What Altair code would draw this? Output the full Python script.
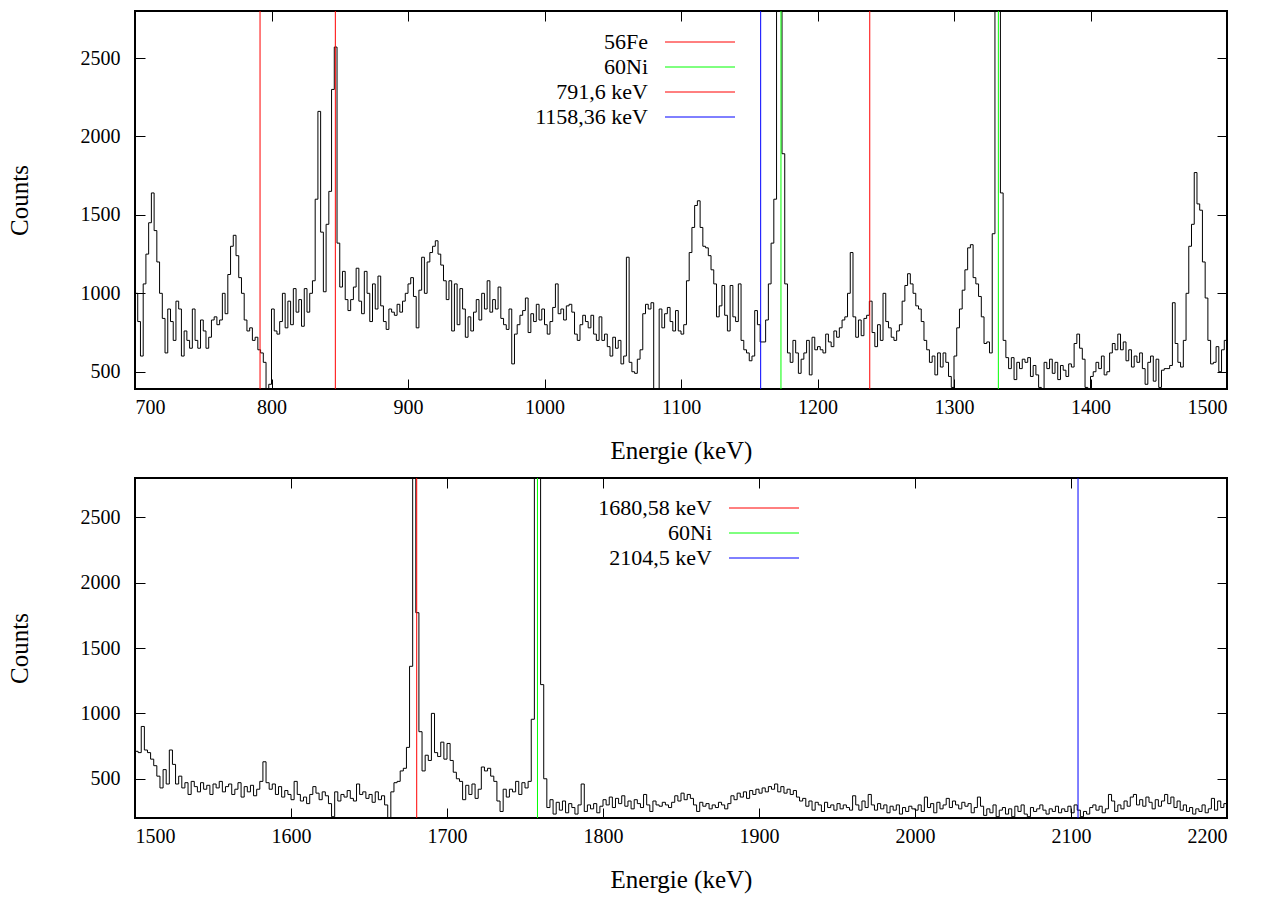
import altair as alt
import pandas as pd

FONT = "Liberation Serif"
BIN = 2  # keV per channel

# ---------------- top panel: 700-1500 keV (2 keV bins) ----------------
top_start = 700
top_counts = [
    1000, 820, 600, 1060, 1250, 1450, 1640, 1400, 1200, 1000,
    840, 620, 900, 820, 700, 950, 900, 600, 760, 700,
    650, 900, 700, 650, 830, 760, 650, 720, 830, 850,
    800, 830, 1000, 870, 1120, 1300, 1370, 1240, 1100, 1000,
    830, 760, 780, 700, 720, 640, 620, 560, 380, 420,
    900, 760, 740, 820, 1000, 780, 950, 800, 1030, 880,
    960, 790, 1030, 880, 1000, 1080, 1600, 2160, 1390, 1010,
    1440, 1650, 2300, 2570, 1320, 1040, 1140, 960, 890, 960,
    1040, 1160, 950, 870, 1140, 1000, 820, 1060, 900, 1110,
    920, 820, 770, 900, 880, 860, 930, 880, 950, 1000,
    1060, 1100, 980, 780, 1020, 1230, 1000, 1200, 1260, 1300,
    1335, 1250, 1180, 1080, 960, 1080, 760, 1060, 800, 1030,
    900, 720, 850, 760, 880, 960, 830, 1000, 900, 1080,
    880, 960, 900, 1040, 840, 800, 770, 900, 550, 740,
    800, 860, 890, 970, 750, 870, 820, 930, 830, 900,
    800, 740, 820, 910, 1060, 870, 900, 830, 920, 930,
    880, 740, 700, 800, 860, 820, 780, 860, 740, 700,
    850, 700, 740, 660, 600, 720, 650, 700, 550, 600,
    1230, 560, 500, 490, 580, 640, 870, 930, 900, 940,
    380, 380, 900, 780, 870, 910, 820, 760, 890, 760,
    740, 800, 1080, 1260, 1420, 1560, 1590, 1420, 1300, 1290,
    1240, 1150, 1060, 850, 920, 1050, 860, 760, 1050, 850,
    820, 1060, 700, 640, 620, 570, 600, 890, 800, 690,
    690, 830, 1060, 1320, 1600, 3500, 3500, 1890, 1060, 620,
    560, 700, 620, 490, 580, 620, 700, 480, 720, 640,
    660, 640, 620, 740, 690, 660, 760, 720, 780, 830,
    850, 1000, 1260, 850, 720, 830, 730, 840, 860, 950,
    750, 660, 800, 700, 1000, 820, 780, 720, 700, 760,
    800, 950, 1050, 1125, 1060, 1000, 920, 900, 820, 700,
    640, 560, 600, 480, 620, 530, 620, 560, 470, 400,
    600, 780, 900, 1020, 1150, 1290, 1310, 1100, 1060, 980,
    850, 680, 690, 620, 1380, 3500, 3200, 1640, 700, 590,
    520, 590, 450, 560, 520, 580, 560, 590, 470, 540,
    480, 400, 380, 560, 520, 580, 490, 560, 450, 540,
    510, 470, 550, 530, 680, 740, 650, 580, 400, 380,
    470, 500, 560, 520, 600, 480, 500, 620, 680, 640,
    740, 640, 690, 570, 640, 530, 600, 560, 620, 520,
    420, 560, 600, 440, 580, 400, 510, 520, 520, 540,
    940, 680, 560, 530, 700, 1000, 1300, 1440, 1770, 1570,
    1530, 1200, 970, 700, 550, 560, 660, 500, 640, 700,
]

# ---------------- bottom panel: 1500-2200 keV (2 keV bins) ----------------
bot_start = 1500
bot_counts = [
    710, 700, 900, 720, 700, 650, 600, 520, 430, 570,
    460, 720, 610, 460, 520, 430, 470, 380, 480, 440,
    400, 470, 420, 450, 380, 460, 430, 480, 400, 440,
    460, 380, 420, 470, 360, 440, 400, 450, 370, 420,
    480, 630, 470, 420, 460, 380, 440, 360, 410, 380,
    340, 480, 380, 330, 360, 310, 380, 440, 390, 340,
    400, 370, 310, 210, 400, 330, 380, 360, 410, 350,
    330, 460, 380, 400, 350, 380, 320, 400, 340, 370,
    300, 200, 400, 470, 480, 560, 580, 740, 1360, 3200,
    1770, 860, 560, 680, 640, 1000, 700, 670, 780, 650,
    770, 640, 550, 500, 480, 340, 450, 380, 460, 350,
    420, 590, 560, 580, 520, 480, 330, 250, 420, 360,
    420, 400, 480, 380, 470, 430, 480, 955, 3500, 3500,
    1220, 500, 280, 340, 230, 320, 260, 330, 240, 310,
    280, 230, 300, 460, 250, 300, 270, 310, 240, 290,
    340, 300, 360, 280, 350, 310, 370, 290, 330, 270,
    340, 310, 280, 380, 300, 250, 330, 300, 290, 320,
    300, 280, 320, 370, 330, 390, 340, 380, 350, 300,
    250, 320, 290, 310, 270, 300, 280, 320, 300, 270,
    310, 370, 340, 390, 360, 400, 350, 410, 380, 420,
    390, 430, 400, 440, 420, 460, 400, 440, 390, 420,
    380, 410, 360, 330, 350, 290, 330, 260, 320, 300,
    250, 320, 280, 300, 260, 310, 270, 300, 280, 260,
    370, 300, 260, 330, 280, 380, 300, 260, 310, 270,
    300, 240, 290, 260, 300, 230, 280, 250, 290, 270,
    260, 300, 250, 360, 280, 310, 240, 320, 270, 300,
    350, 280, 330, 300, 270, 320, 290, 310, 240, 280,
    360, 290, 220, 270, 240, 300, 210, 260, 280, 230,
    270, 210, 290, 250, 300, 230, 210, 280, 250, 270,
    300, 260, 230, 270, 250, 290, 240, 270, 250, 290,
    240, 300, 260, 210, 250, 230, 280, 300, 260, 290,
    240, 270, 380, 330, 250, 300, 270, 330, 290, 360,
    380, 300, 340, 290, 360, 320, 270, 340, 290, 330,
    380, 310, 360, 280, 330, 260, 300, 250, 280, 230,
    270, 250, 300, 240, 270, 350, 260, 330, 280, 310,
]

top_x_domain = [700, 1500]
top_y_domain = [390, 2800]
bot_x_domain = [1500, 2200]
bot_y_domain = [200, 2800]
top_x_ticks = [700, 800, 900, 1000, 1100, 1200, 1300, 1400, 1500]
bot_x_ticks = [1500, 1600, 1700, 1800, 1900, 2000, 2100, 2200]
y_ticks = [500, 1000, 1500, 2000, 2500]

RED, GREEN, BLUE = "#ff0000", "#00ff00", "#0000ff"

top_marker_energy = [791.6, 846.77, 1158.36, 1173.23, 1238.28, 1332.49]
top_marker_color = [RED, RED, BLUE, GREEN, RED, GREEN]
top_legend_labels = ["56Fe", "60Ni", "791,6 keV", "1158,36 keV"]
top_legend_colors = [RED, GREEN, RED, BLUE]

bot_marker_energy = [1680.58, 1758.0, 2104.5]
bot_marker_color = [RED, GREEN, BLUE]
bot_legend_labels = ["1680,58 keV", "60Ni", "2104,5 keV"]
bot_legend_colors = [RED, GREEN, BLUE]

PLOT_W = 1092


def panel(start, counts, xdom, ydom, xticks, m_e, m_c, l_lab, l_col, h,
          text_x, line_x1, line_x2, ly0, ldy):
    energies = [start + BIN * i for i in range(len(counts) + 1)]
    values = list(counts) + [counts[-1]]
    spec = pd.DataFrame({"E": energies, "C": values})
    xs = alt.Scale(domain=xdom, nice=False, zero=False)
    ys = alt.Scale(domain=ydom, nice=False, zero=False)
    tick = dict(tickSize=10, tickColor="black", tickWidth=1, domain=False,
                grid=False, offset=-10)

    line = alt.Chart(spec).mark_line(
        interpolate="step-after", color="black", strokeWidth=1, clip=True
    ).encode(
        x=alt.X("E:Q", scale=xs, axis=alt.Axis(
            orient="bottom", values=xticks, format="d", title="Energie (keV)",
            labelPadding=8, titlePadding=21, titleFontSize=25, **tick)),
        y=alt.Y("C:Q", scale=ys, axis=alt.Axis(
            orient="left", values=y_ticks, format="d", title="Counts",
            labelPadding=15, titlePadding=48, titleFontSize=25, **tick)),
    )
    mirror = alt.Chart(spec).mark_line(opacity=0, clip=True).encode(
        x=alt.X("E:Q", scale=xs, axis=alt.Axis(
            orient="top", values=xticks, labels=False, title=None, **tick)),
        y=alt.Y("C:Q", scale=ys, axis=alt.Axis(
            orient="right", values=y_ticks, labels=False, title=None, **tick)),
    )
    marks = pd.DataFrame({"E": m_e, "col": m_c})
    rules = alt.Chart(marks).mark_rule(strokeWidth=1, clip=True).encode(
        x=alt.X("E:Q", scale=xs, axis=None),
        color=alt.Color("col:N", scale=None),
    )
    leg = pd.DataFrame({"label": l_lab, "col": l_col,
                        "row": list(range(len(l_lab)))})
    leg_text = alt.Chart(leg).transform_calculate(
        ly=f"{ly0} + datum.row * {ldy}"
    ).mark_text(align="right", baseline="middle", font=FONT, fontSize=22,
                color="black").encode(
        x=alt.value(text_x),
        y=alt.Y("ly:Q", scale=None, axis=None),
        text="label:N",
    )
    leg_rule = alt.Chart(leg).transform_calculate(
        ly=f"{ly0} + datum.row * {ldy}"
    ).mark_rule(strokeWidth=1).encode(
        x=alt.value(line_x1), x2=alt.value(line_x2),
        y=alt.Y("ly:Q", scale=None, axis=None),
        color=alt.Color("col:N", scale=None),
    )
    return alt.layer(line, mirror, rules, leg_rule, leg_text).resolve_axis(
        x="independent", y="independent"
    ).properties(width=PLOT_W, height=h)


top = panel(top_start, top_counts, top_x_domain, top_y_domain, top_x_ticks,
            top_marker_energy, top_marker_color, top_legend_labels,
            top_legend_colors, 378, 513, 530, 600, 31, 25)
bottom = panel(bot_start, bot_counts, bot_x_domain, bot_y_domain, bot_x_ticks,
               bot_marker_energy, bot_marker_color, bot_legend_labels,
               bot_legend_colors, 340, 577, 594, 664, 30, 25)

chart = alt.vconcat(top, bottom, spacing=12).configure_view(
    stroke="black", strokeWidth=2
).configure_axis(
    labelFont=FONT, titleFont=FONT, labelFontSize=20,
    titleFontWeight="normal", labelColor="black", titleColor="black",
).properties(
    padding={"left": 6, "top": 9, "right": 5, "bottom": 2},
    background="white",
)

chart.save("out.html", embed_options={"renderer": "svg", "actions": False})
